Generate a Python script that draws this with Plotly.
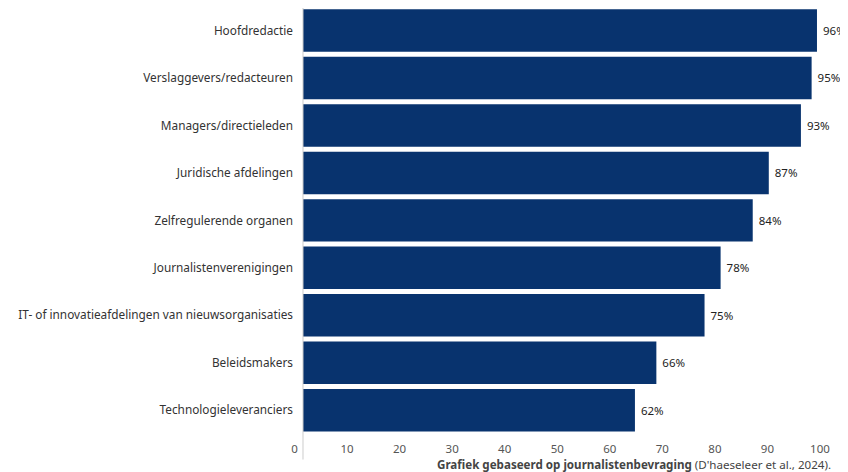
import plotly.graph_objects as go

categories = [
    "Hoofdredactie",
    "Verslaggevers/redacteuren",
    "Managers/directieleden",
    "Juridische afdelingen",
    "Zelfregulerende organen",
    "Journalistenverenigingen",
    "IT- of innovatieafdelingen van nieuwsorganisaties",
    "Beleidsmakers",
    "Technologieleveranciers",
]
values = [96, 95, 93, 87, 84, 78, 75, 66, 62]
tick_values = [0, 10, 20, 30, 40, 50, 60, 70, 80, 90, 100]
caption_bold = "Grafiek gebaseerd op journalistenbevraging"
caption_rest = "(D'haeseleer et al., 2024)."

FONT = "Noto Sans"
BAR = "#08336e"

fig = go.Figure()
fig.add_trace(go.Bar(
    x=values, y=categories, orientation="h",
    marker=dict(color=BAR, line=dict(width=0)),
    text=[f"\u00a0{v}%" for v in values], textposition="outside",
    textfont=dict(family=FONT, size=11.5, color="#222222"),
    constraintext="none", cliponaxis=True,
    hoverinfo="skip", xaxis="x", yaxis="y",
))
# invisible trace to carry the labelled 0-100 axis
fig.add_trace(go.Scatter(
    x=[0], y=[categories[0]], mode="markers", marker=dict(opacity=0),
    showlegend=False, hoverinfo="skip", xaxis="x2", yaxis="y",
))

# the page body has an 8px default margin, so the figure is 8px smaller
fig.update_layout(
    width=840, height=464,
    margin=dict(l=280, r=8, t=0, b=37.75),
    paper_bgcolor="white", plot_bgcolor="white",
    showlegend=False, bargap=0.105,
    font=dict(family=FONT, size=11, color="#333333"),
    xaxis=dict(range=[-2.80, 100.30], showgrid=False, zeroline=False,
               showticklabels=False, showline=False, fixedrange=True,
               automargin=False),
    xaxis2=dict(range=[-1.237, 103.81], overlaying="x", side="bottom",
                anchor="y", tickvals=tick_values, ticks="", showgrid=False,
                zeroline=False, showline=False, automargin=False,
                ticklabelstandoff=6,
                tickfont=dict(family=FONT, size=11.5, color="#555555")),
    yaxis=dict(range=[8.5, -0.4737], showgrid=False, ticks="",
               ticklabelstandoff=-6, automargin=False,
               tickfont=dict(family=FONT, size=11.8, color="#333333")),
    shapes=[dict(type="line", xref="x", yref="paper", x0=0, x1=0,
                 y0=-0.06, y1=1.0, line=dict(color="#cccccc", width=1))],
    annotations=[dict(
        xref="paper", yref="paper", x=1.0, y=-0.072, xanchor="right",
        yanchor="middle", showarrow=False,
        text=f"<b>{caption_bold}</b> {caption_rest}",
        font=dict(family=FONT, size=11.6, color="#444444"), xshift=-7,
    )],
)

fig.write_html("out.html")
